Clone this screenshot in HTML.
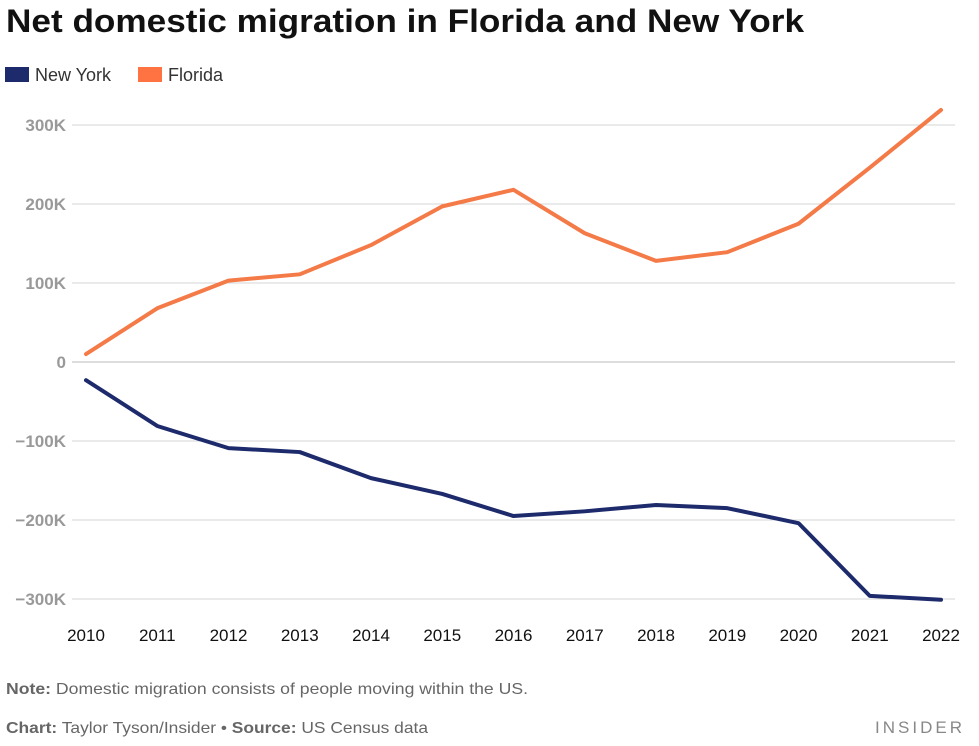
<!DOCTYPE html>
<html><head><meta charset="utf-8"><style>
body{margin:0;background:#fff;width:979px;height:741px;overflow:hidden;font-family:"Liberation Sans",sans-serif;}
</style></head><body>
<svg id="chart" width="979" height="741" xmlns="http://www.w3.org/2000/svg">
<text x="6" y="32" font-size="32" font-weight="bold" fill="#111" textLength="798" lengthAdjust="spacingAndGlyphs">Net domestic migration in Florida and New York</text>
<g>
<rect x="5" y="67" width="24" height="15" fill="#1d2a6b"/>
<text x="35" y="81" font-size="18" fill="#333">New York</text>
<rect x="138" y="67" width="24" height="15" fill="#ff7242"/>
<text x="168" y="81" font-size="18" fill="#333">Florida</text>
</g>
<g id="grid"></g><g id="yticks"></g><g id="xticks"></g><g id="lines"></g>
<text x="6" y="694" font-size="16" fill="#666" textLength="522" lengthAdjust="spacingAndGlyphs"><tspan font-weight="bold">Note:</tspan> Domestic migration consists of people moving within the US.</text>
<text x="6" y="733" font-size="16" fill="#666" textLength="422" lengthAdjust="spacingAndGlyphs"><tspan font-weight="bold">Chart:</tspan> Taylor Tyson/Insider • <tspan font-weight="bold">Source:</tspan> US Census data</text>
<text x="965" y="733" font-size="17" fill="#888" text-anchor="end" letter-spacing="3">INSIDER</text>
</svg>
<script>
const years=[2010,2011,2012,2013,2014,2015,2016,2017,2018,2019,2020,2021,2022];
const florida=[10,68,103,111,148,197,218,163,128,139,175,246,319];
const newYork=[-23,-81,-109,-114,-147,-167,-195,-189,-181,-185,-204,-296,-301];
const yTicks=[300,200,100,0,-100,-200,-300];
const yTickLabels=["300K","200K","100K","0","\u2212100K","\u2212200K","\u2212300K"];
const NS="http://www.w3.org/2000/svg";
const xPos=i=>86+i*(855/12);
const yPos=v=>362-v*0.79;
function mk(tag,attrs,parent){const e=document.createElementNS(NS,tag);for(const k in attrs)e.setAttribute(k,attrs[k]);document.getElementById(parent).appendChild(e);return e;}
yTicks.forEach((t,i)=>{
  const l=mk('line',{x1:72,x2:955,y1:yPos(t),y2:yPos(t),stroke:t===0?'#bbb':'#d4d4d4','stroke-width':1},'grid');
  
  
  const tx=mk('text',{x:66,y:yPos(t)+6,'font-size':17,'font-weight':'bold',fill:'#999','text-anchor':'end'},'yticks');
  tx.textContent=yTickLabels[i];
  
  
});
years.forEach((y,i)=>{
  const tx=mk('text',{x:xPos(i),y:641,'font-size':17,fill:'#111','text-anchor':'middle'},'xticks');
  tx.textContent=y;
  
  
});
function line(vals,color,name){
  const d=vals.map((v,i)=>(i?'L':'M')+xPos(i)+','+yPos(v)).join(' ');
  const p=mk('path',{d:d,fill:'none',stroke:color,'stroke-width':4,'stroke-linejoin':'round','stroke-linecap':'round'},'lines');
  
  
}
line(florida,'#f47a48','florida-line');
line(newYork,'#1d2a6b','new-york-line');
</script>
</body></html>
